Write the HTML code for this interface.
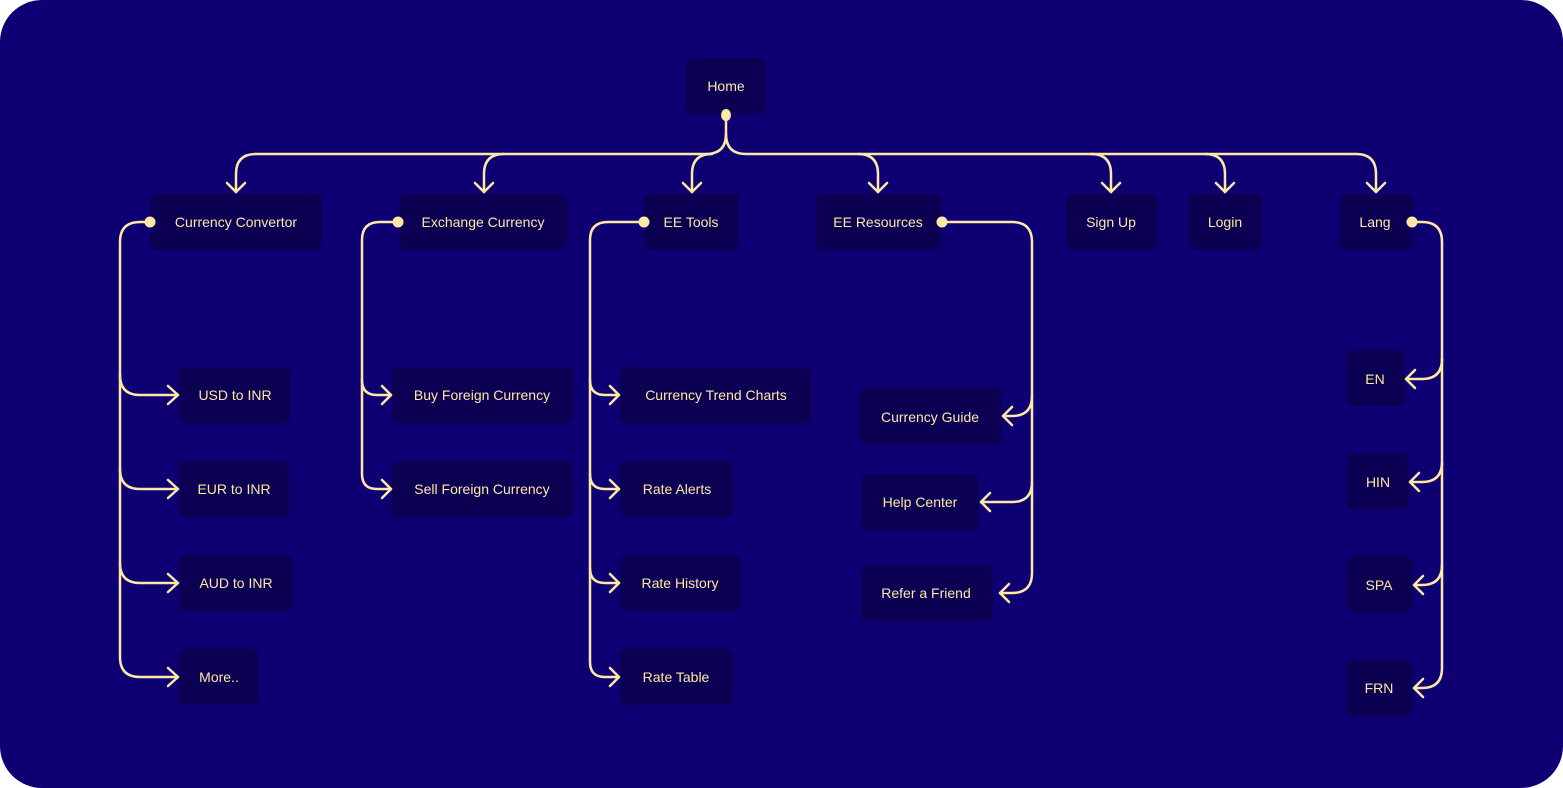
<!DOCTYPE html>
<html><head><meta charset="utf-8"><style>
html,body{margin:0;padding:0;background:#fff;width:1563px;height:788px;overflow:hidden}
svg{display:block}
text{font-family:"Liberation Sans",sans-serif;font-size:14px;fill:#fde8a6;text-anchor:middle;dominant-baseline:central}
</style></head><body>
<svg width="1563" height="788" viewBox="0 0 1563 788">
<rect x="0" y="0" width="1563" height="788" rx="42" fill="#0e0073"/>
<g fill="#0b0052">
<rect x="686" y="58" width="80" height="56" rx="7"/>
<rect x="150" y="194" width="172" height="56" rx="7"/>
<rect x="399" y="194" width="168" height="56" rx="7"/>
<rect x="644" y="194" width="95" height="56" rx="7"/>
<rect x="816" y="194" width="125" height="56" rx="7"/>
<rect x="1066" y="194" width="91" height="56" rx="7"/>
<rect x="1189" y="194" width="73" height="56" rx="7"/>
<rect x="1340" y="194" width="73" height="56" rx="7"/>
<rect x="179" y="367" width="112" height="56" rx="7"/>
<rect x="179" y="461" width="110" height="56" rx="7"/>
<rect x="179" y="555" width="114" height="56" rx="7"/>
<rect x="179" y="649" width="80" height="56" rx="7"/>
<rect x="392" y="367" width="181" height="56" rx="7"/>
<rect x="392" y="461" width="181" height="56" rx="7"/>
<rect x="620" y="367" width="191" height="56" rx="7"/>
<rect x="620" y="461" width="113" height="56" rx="7"/>
<rect x="620" y="555" width="121" height="56" rx="7"/>
<rect x="620" y="649" width="113" height="56" rx="7"/>
<rect x="859" y="388" width="143" height="56" rx="7"/>
<rect x="861" y="474" width="118" height="56" rx="7"/>
<rect x="861" y="565" width="132" height="56" rx="7"/>
<rect x="1347" y="350" width="58" height="56" rx="7"/>
<rect x="1347" y="453" width="62" height="56" rx="7"/>
<rect x="1347" y="556" width="66" height="56" rx="7"/>
<rect x="1347" y="660" width="66" height="56" rx="7"/>
</g>
<g fill="none" stroke="#fde8a6" stroke-width="2.5" stroke-linecap="round" stroke-linejoin="round">
<!-- top bus -->
<path d="M726,115 V134 Q726,154 706,154 H256 Q236,154 236,174 V192"/>
<path d="M726,134 Q726,154 746,154 H1356 Q1376,154 1376,174 V192"/>
<path d="M504,154 Q484,154 484,174 V192"/>
<path d="M712,154 Q692,154 692,174 V192"/>
<path d="M858,154 Q878,154 878,174 V192"/>
<path d="M1091,154 Q1111,154 1111,174 V192"/>
<path d="M1205,154 Q1225,154 1225,174 V192"/>
<path d="M227,183 L236,192 L245,183 M475,183 L484,192 L493,183 M683,183 L692,192 L701,183 M869,183 L878,192 L887,183 M1102,183 L1111,192 L1120,183 M1216,183 L1225,192 L1234,183 M1367,183 L1376,192 L1385,183"/>
<!-- Currency Convertor -->
<path d="M150,222 H140 Q120,222 120,242 V657 Q120,677 140,677 H178"/>
<path d="M120,375 Q120,395 140,395 H178 M120,469 Q120,489 140,489 H178 M120,563 Q120,583 140,583 H178"/>
<path d="M168,386 L178,395 L168,404 M168,480 L178,489 L168,498 M168,574 L178,583 L168,592 M168,668 L178,677 L168,686"/>
<!-- Exchange Currency -->
<path d="M398,222 H380 Q362,222 362,240 V474 Q362,489 377,489 H391"/>
<path d="M362,380 Q362,395 377,395 H391"/>
<path d="M382,386 L391,395 L382,404 M382,480 L391,489 L382,498"/>
<!-- EE Tools -->
<path d="M644,222 H608 Q590,222 590,240 V662 Q590,677 605,677 H619"/>
<path d="M590,380 Q590,395 605,395 H619 M590,474 Q590,489 605,489 H619 M590,568 Q590,583 605,583 H619"/>
<path d="M610,386 L619,395 L610,404 M610,480 L619,489 L610,498 M610,574 L619,583 L610,592 M610,668 L619,677 L610,686"/>
<!-- EE Resources -->
<path d="M942,222 H1012 Q1032,222 1032,242 V573 Q1032,593 1012,593 H1000"/>
<path d="M1032,396 Q1032,416 1012,416 H1003 M1032,482 Q1032,502 1012,502 H981"/>
<path d="M1012,407 L1003,416 L1012,425 M990,493 L981,502 L990,511 M1009,584 L1000,593 L1009,602"/>
<!-- Lang -->
<path d="M1412,222 H1422 Q1442,222 1442,242 V668 Q1442,688 1422,688 H1414"/>
<path d="M1442,359 Q1442,379 1422,379 H1406 M1442,462 Q1442,482 1422,482 H1410 M1442,565 Q1442,585 1422,585 H1414"/>
<path d="M1415,370 L1406,379 L1415,388 M1419,473 L1410,482 L1419,491 M1423,576 L1414,585 L1423,594 M1423,679 L1414,688 L1423,697"/>
</g>
<g fill="#fde8a6">
<ellipse cx="726" cy="115" rx="5" ry="6"/>
<circle cx="150" cy="222" r="5.5"/>
<circle cx="398" cy="222" r="5.5"/>
<circle cx="644" cy="222" r="5.5"/>
<circle cx="942" cy="222" r="5.5"/>
<circle cx="1412" cy="222" r="5.5"/>
</g>
<text x="726" y="86">Home</text>
<text x="236" y="222">Currency Convertor</text>
<text x="483" y="222">Exchange Currency</text>
<text x="691" y="222">EE Tools</text>
<text x="878" y="222">EE Resources</text>
<text x="1111" y="222">Sign Up</text>
<text x="1225" y="222">Login</text>
<text x="1375" y="222">Lang</text>
<text x="235" y="395">USD to INR</text>
<text x="234" y="489">EUR to INR</text>
<text x="236" y="583">AUD to INR</text>
<text x="219" y="677">More..</text>
<text x="482" y="395">Buy Foreign Currency</text>
<text x="482" y="489">Sell Foreign Currency</text>
<text x="716" y="395">Currency Trend Charts</text>
<text x="677" y="489">Rate Alerts</text>
<text x="680" y="583">Rate History</text>
<text x="676" y="677">Rate Table</text>
<text x="930" y="417">Currency Guide</text>
<text x="920" y="502">Help Center</text>
<text x="926" y="593">Refer a Friend</text>
<text x="1375" y="379">EN</text>
<text x="1378" y="482">HIN</text>
<text x="1379" y="585">SPA</text>
<text x="1379" y="688">FRN</text>
</svg>
</body></html>
